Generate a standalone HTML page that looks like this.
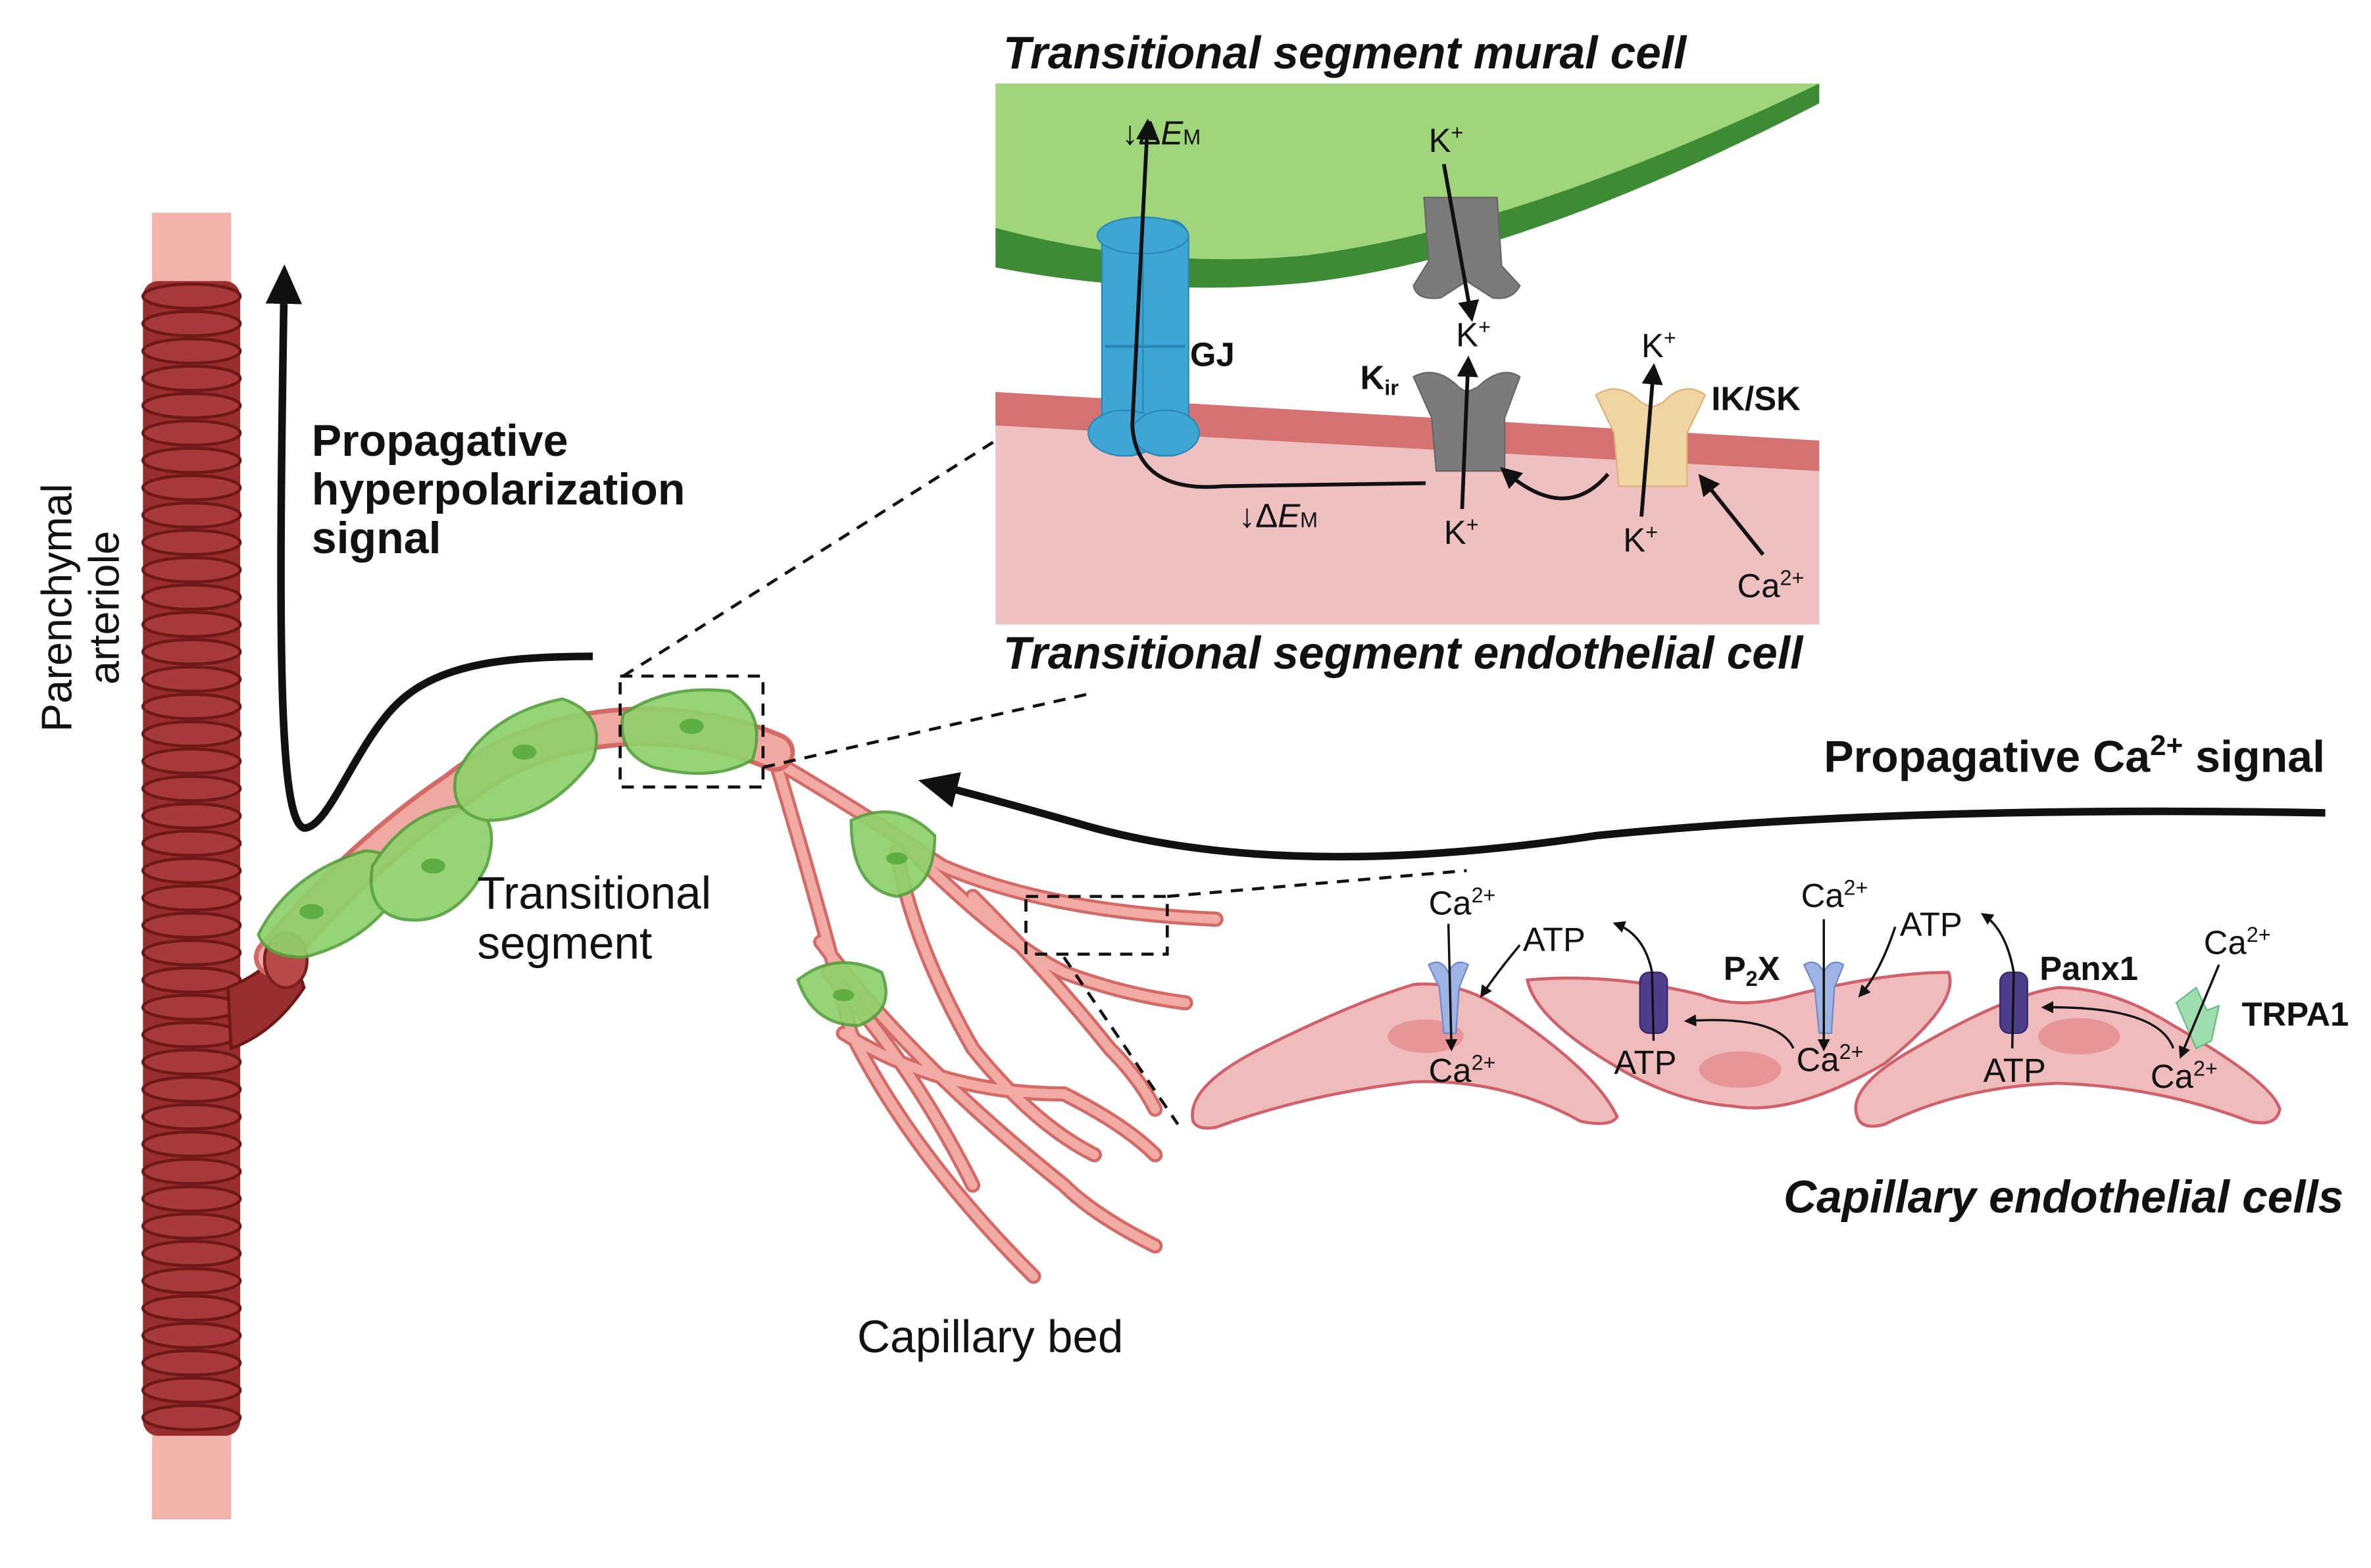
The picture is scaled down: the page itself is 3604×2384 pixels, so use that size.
<!DOCTYPE html>
<html><head><meta charset="utf-8"><style>
html,body{margin:0;padding:0;background:#fff;}
svg{display:block;}
text{font-family:"Liberation Sans",sans-serif;fill:#111;}
.b{font-weight:bold;}
.bi{font-weight:bold;font-style:italic;}
</style></head><body>
<svg width="3604" height="2384" viewBox="0 0 1560 1032" xmlns="http://www.w3.org/2000/svg">
<defs>
<marker id="ah" markerWidth="8" markerHeight="8" refX="6" refY="4" orient="auto" markerUnits="userSpaceOnUse"><path d="M0,0 L8,4 L0,8 z" fill="#111"/></marker>
<marker id="ahb" markerWidth="26" markerHeight="24" refX="20" refY="12" orient="auto" markerUnits="userSpaceOnUse"><path d="M0,0 L26,12 L0,24 z" fill="#111"/></marker>
<marker id="ahm" markerWidth="14" markerHeight="14" refX="10" refY="7" orient="auto" markerUnits="userSpaceOnUse"><path d="M0,0 L14,7 L0,14 z" fill="#111"/></marker>
</defs>

<!-- Arteriole -->
<rect x="100" y="140" width="52" height="60" fill="#f2b3ad"/>
<rect x="100" y="930" width="52" height="70" fill="#f2b3ad"/>
<rect x="94" y="185" width="64" height="760" rx="10" fill="#9a2e2e"/>
<g stroke="#6e1818" stroke-width="2" fill="#a8393a">
<ellipse cx="126" cy="195" rx="32" ry="8"/><ellipse cx="126" cy="213" rx="32" ry="8"/><ellipse cx="126" cy="231" rx="32" ry="8"/><ellipse cx="126" cy="249" rx="32" ry="8"/><ellipse cx="126" cy="267" rx="32" ry="8"/><ellipse cx="126" cy="285" rx="32" ry="8"/><ellipse cx="126" cy="303" rx="32" ry="8"/><ellipse cx="126" cy="321" rx="32" ry="8"/><ellipse cx="126" cy="339" rx="32" ry="8"/><ellipse cx="126" cy="357" rx="32" ry="8"/><ellipse cx="126" cy="375" rx="32" ry="8"/><ellipse cx="126" cy="393" rx="32" ry="8"/><ellipse cx="126" cy="411" rx="32" ry="8"/><ellipse cx="126" cy="429" rx="32" ry="8"/><ellipse cx="126" cy="447" rx="32" ry="8"/><ellipse cx="126" cy="465" rx="32" ry="8"/><ellipse cx="126" cy="483" rx="32" ry="8"/><ellipse cx="126" cy="501" rx="32" ry="8"/><ellipse cx="126" cy="519" rx="32" ry="8"/><ellipse cx="126" cy="537" rx="32" ry="8"/><ellipse cx="126" cy="555" rx="32" ry="8"/><ellipse cx="126" cy="573" rx="32" ry="8"/><ellipse cx="126" cy="591" rx="32" ry="8"/><ellipse cx="126" cy="609" rx="32" ry="8"/><ellipse cx="126" cy="627" rx="32" ry="8"/><ellipse cx="126" cy="645" rx="32" ry="8"/><ellipse cx="126" cy="663" rx="32" ry="8"/><ellipse cx="126" cy="681" rx="32" ry="8"/><ellipse cx="126" cy="699" rx="32" ry="8"/><ellipse cx="126" cy="717" rx="32" ry="8"/><ellipse cx="126" cy="735" rx="32" ry="8"/><ellipse cx="126" cy="753" rx="32" ry="8"/><ellipse cx="126" cy="771" rx="32" ry="8"/><ellipse cx="126" cy="789" rx="32" ry="8"/><ellipse cx="126" cy="807" rx="32" ry="8"/><ellipse cx="126" cy="825" rx="32" ry="8"/><ellipse cx="126" cy="843" rx="32" ry="8"/><ellipse cx="126" cy="861" rx="32" ry="8"/><ellipse cx="126" cy="879" rx="32" ry="8"/><ellipse cx="126" cy="897" rx="32" ry="8"/><ellipse cx="126" cy="915" rx="32" ry="8"/><ellipse cx="126" cy="933" rx="32" ry="8"/>
</g>
<path d="M150,650 Q175,640 190,620 L200,650 Q180,680 152,690 z" fill="#9a2e2e" stroke="#6e1818" stroke-width="2"/>

<text font-size="28" transform="translate(47,400) rotate(-90)" text-anchor="middle">Parenchymal</text>
<text font-size="28" transform="translate(78,400) rotate(-90)" text-anchor="middle">arteriole</text>

<!-- capillary branches -->
<g fill="none" stroke="#d46a66" stroke-width="10" stroke-linecap="round">
<path d="M500,495 Q560,530 620,570 Q690,600 800,605"/>
<path d="M600,560 Q660,620 700,640 Q740,655 780,660"/>
<path d="M640,590 Q690,640 730,690 Q750,710 760,730"/>
<path d="M510,500 Q540,600 560,680 Q600,760 680,840"/>
<path d="M540,620 Q600,700 700,780 Q720,800 760,820"/>
<path d="M555,680 Q620,720 700,720 Q740,740 760,760"/>
<path d="M590,560 Q600,620 640,690 Q680,740 720,760"/>
<path d="M545,640 Q600,700 640,780"/>
</g>
<g fill="none" stroke="#f2aaa4" stroke-width="6" stroke-linecap="round">
<path d="M500,495 Q560,530 620,570 Q690,600 800,605"/>
<path d="M600,560 Q660,620 700,640 Q740,655 780,660"/>
<path d="M640,590 Q690,640 730,690 Q750,710 760,730"/>
<path d="M510,500 Q540,600 560,680 Q600,760 680,840"/>
<path d="M540,620 Q600,700 700,780 Q720,800 760,820"/>
<path d="M555,680 Q620,720 700,720 Q740,740 760,760"/>
<path d="M590,560 Q600,620 640,690 Q680,740 720,760"/>
<path d="M545,640 Q600,700 640,780"/>
</g>
<!-- transitional segment vessel -->
<path d="M180,630 Q240,560 300,520 Q350,480 420,478 Q470,478 510,495" fill="none" stroke="#d46a66" stroke-width="26" stroke-linecap="round"/>
<path d="M180,630 Q240,560 300,520 Q350,480 420,478 Q470,478 510,495" fill="none" stroke="#f0a9a2" stroke-width="20" stroke-linecap="round"/>
<ellipse cx="188" cy="632" rx="14" ry="18" fill="#b94848" stroke="#7a2020" stroke-width="2"/>
<!-- green mural cells -->
<g fill="#8fd16a" stroke="#57a13e" stroke-width="2" opacity="0.92">
<path d="M170,615 Q190,575 240,560 Q265,560 260,590 Q240,620 200,630 Q175,630 170,615z"/>
<path d="M245,570 Q270,530 310,530 Q330,540 320,570 Q300,610 265,605 Q240,600 245,570z"/>
<path d="M300,510 Q320,470 370,460 Q400,470 390,500 Q360,540 320,540 Q295,535 300,510z"/>
<path d="M410,470 Q440,450 480,455 Q505,470 495,500 Q470,515 430,505 Q405,495 410,470z"/>
<path d="M560,540 Q590,525 615,550 Q615,585 590,590 Q560,585 560,540z"/>
<path d="M525,645 Q550,625 580,640 Q590,665 565,675 Q535,675 525,645z"/>
</g>
<g fill="#5fae43">
<ellipse cx="205" cy="600" rx="8" ry="5"/><ellipse cx="285" cy="570" rx="8" ry="5"/><ellipse cx="345" cy="495" rx="8" ry="5"/><ellipse cx="455" cy="478" rx="8" ry="5"/><ellipse cx="590" cy="565" rx="7" ry="4"/><ellipse cx="555" cy="655" rx="7" ry="4"/>
</g>

<text font-size="30" x="314" y="598">Transitional</text>
<text font-size="30" x="314" y="631">segment</text>
<text font-size="30" x="564" y="890">Capillary bed</text>

<!-- hyperpolarization arrow -->
<path d="M390,432 C320,432 280,440 255,470 C230,500 215,545 200,545 C183,540 183,420 187,180" fill="none" stroke="#111" stroke-width="5" marker-end="url(#ahb)"/>
<text class="b" font-size="29.5" x="205" y="300">Propagative</text>
<text class="b" font-size="29.5" x="205" y="332">hyperpolarization</text>
<text class="b" font-size="29.5" x="205" y="364">signal</text>

<!-- Ca signal arrow -->
<path d="M1530,535 Q1250,530 1050,550 Q850,580 720,545 Q650,525 610,515" fill="none" stroke="#111" stroke-width="5" marker-end="url(#ahb)"/>
<text class="b" font-size="29.5" x="1200" y="508">Propagative Ca<tspan font-size="19" dy="-11">2+</tspan><tspan dy="11"> signal</tspan></text>

<!-- dashed boxes & lines -->
<g fill="none" stroke="#111" stroke-width="2" stroke-dasharray="8,6">
<rect x="408" y="445" width="94" height="73"/>
<rect x="675" y="590" width="93" height="38"/>
<line x1="410" y1="445" x2="655" y2="290"/>
<line x1="502" y1="505" x2="715" y2="457"/>
<line x1="768" y1="590" x2="965" y2="573"/>
<line x1="700" y1="630" x2="775" y2="740"/>
</g>

<!-- Inset -->
<text class="bi" font-size="30" x="660" y="45">Transitional segment mural cell</text>
<rect x="655" y="55" width="542" height="356" fill="#fff"/>
<path d="M655,55 L1197,55 L1197,62 Q1000,160 860,180 Q760,190 655,160 z" fill="#9fd67b"/>
<path d="M655,150 Q760,178 860,168 Q1000,150 1197,55 L1197,68 Q1000,170 860,186 Q760,196 655,176 z" fill="#3d8c35"/>
<path d="M655,258 L1197,290 L1197,411 L655,411 z" fill="#efc0c0"/>
<path d="M655,258 L1197,290 L1197,310 L655,280 z" fill="#d47272"/>
<!-- GJ -->
<g fill="#3ea6d4" stroke="#2c88b5" stroke-width="1">
<rect x="725" y="145" width="30" height="155" rx="12"/>
<rect x="752" y="145" width="30" height="155" rx="12"/>
<ellipse cx="740" cy="285" rx="24" ry="15"/><ellipse cx="767" cy="285" rx="22" ry="15"/>
<ellipse cx="752" cy="155" rx="30" ry="12"/>
</g>
<line x1="727" y1="228" x2="780" y2="228" stroke="#2c88b5" stroke-width="2"/>
<!-- gray channels -->
<path d="M937,130 L985,130 L988,175 L1000,188 Q995,198 982,196 L965,185 L948,196 Q932,198 930,188 L940,172 z" fill="#7b7b7b" stroke="#666"/>
<path d="M930,248 Q945,240 960,255 L965,258 L972,255 Q988,240 1000,248 L990,275 L990,310 L945,310 L942,275 z" fill="#7b7b7b" stroke="#666"/>
<path d="M1050,260 Q1065,250 1080,265 L1087,268 L1094,265 Q1108,250 1122,260 L1110,285 L1110,320 L1065,320 L1062,285 z" fill="#f1d4a3" stroke="#d9b57a"/>
<!-- inset arrows -->
<g stroke="#111" stroke-width="2.5" fill="none">
<path d="M938,318 L805,320 Q748,325 745,280 L755,82" marker-end="url(#ahm)"/>
<line x1="950" y1="108" x2="968" y2="208" marker-end="url(#ahm)"/>
<line x1="962" y1="335" x2="966" y2="238" marker-end="url(#ahm)"/>
<line x1="1080" y1="340" x2="1088" y2="243" marker-end="url(#ahm)"/>
<path d="M1058,312 Q1030,345 990,310" marker-end="url(#ahm)"/>
<line x1="1160" y1="365" x2="1120" y2="315" marker-end="url(#ahm)"/>
</g>
<g font-size="22">
<text x="738" y="95">↓Δ<tspan font-style="italic">E</tspan><tspan font-size="14">M</tspan></text>
<text x="940" y="100">K<tspan font-size="14" dy="-8">+</tspan></text>
<text x="958" y="228">K<tspan font-size="14" dy="-8">+</tspan></text>
<text x="1080" y="235">K<tspan font-size="14" dy="-8">+</tspan></text>
<text x="815" y="347">↓Δ<tspan font-style="italic">E</tspan><tspan font-size="14">M</tspan></text>
<text x="950" y="358">K<tspan font-size="14" dy="-8">+</tspan></text>
<text x="1068" y="363">K<tspan font-size="14" dy="-8">+</tspan></text>
<text x="1143" y="393">Ca<tspan font-size="14" dy="-8">2+</tspan></text>
<text class="b" x="783" y="241">GJ</text>
<text class="b" x="895" y="256">K<tspan font-size="14" dy="4">ir</tspan></text>
<text class="b" x="1126" y="270">IK/SK</text>
</g>
<text class="bi" font-size="30" x="660" y="440">Transitional segment endothelial cell</text>

<!-- Capillary endothelial cells -->
<g fill="#efbcbc" stroke="#d0606a" stroke-width="2">
<path d="M1005,645 Q1060,640 1120,655 Q1145,665 1180,655 Q1240,640 1282,640 Q1290,660 1240,700 Q1180,735 1140,728 Q1100,725 1060,700 Q1010,670 1005,645z"/>
<path d="M785,738 Q780,715 830,690 Q890,660 930,648 Q960,645 990,665 Q1050,705 1064,735 Q1060,742 1040,738 Q990,710 930,712 Q860,720 800,742 Q788,744 785,738z"/>
<path d="M1222,735 Q1215,715 1260,690 Q1320,655 1354,650 Q1390,650 1430,675 Q1495,712 1500,730 Q1498,742 1480,738 Q1420,715 1354,713 Q1290,715 1240,740 Q1225,744 1222,735z"/>
</g>
<g fill="#e8959a">
<ellipse cx="938" cy="682" rx="25" ry="11"/><ellipse cx="1145" cy="704" rx="27" ry="12"/><ellipse cx="1368" cy="682" rx="27" ry="12"/>
</g>
<g fill="#9fb4e2" stroke="#6f8acb">
<path d="M940,635 Q948,630 953,640 Q958,630 966,635 L960,650 L958,680 L950,680 L947,650z"/>
<path d="M1187,635 Q1195,630 1200,640 Q1205,630 1213,635 L1207,650 L1205,680 L1197,680 L1194,650z"/>
</g>
<g fill="#4d3d8c" stroke="#352870">
<rect x="1079" y="640" width="18" height="40" rx="6"/>
<rect x="1316" y="640" width="18" height="40" rx="6"/>
</g>
<path d="M1432,660 L1445,650 L1452,665 L1460,662 L1455,685 L1445,690 z" fill="#9fdcb0" stroke="#6bbc86"/>
<g stroke="#111" stroke-width="1.5" fill="none">
<line x1="953" y1="608" x2="955" y2="690" marker-end="url(#ah)"/>
<path d="M1000,622 Q985,640 975,655" marker-end="url(#ah)"/>
<path d="M1088,685 L1087,640 Q1082,615 1063,608" marker-end="url(#ah)"/>
<line x1="1200" y1="605" x2="1200" y2="690" marker-end="url(#ah)"/>
<path d="M1247,610 Q1237,640 1224,655" marker-end="url(#ah)"/>
<path d="M1324,690 L1325,640 Q1320,612 1305,602" marker-end="url(#ah)"/>
<path d="M1180,690 Q1170,668 1110,672" marker-end="url(#ah)"/>
<path d="M1430,690 Q1420,662 1345,663" marker-end="url(#ah)"/>
<line x1="1460" y1="635" x2="1435" y2="695" marker-end="url(#ah)"/>
</g>
<g font-size="22">
<text x="940" y="602">Ca<tspan font-size="14" dy="-8">2+</tspan></text>
<text x="1002" y="626">ATP</text>
<text x="940" y="712">Ca<tspan font-size="14" dy="-8">2+</tspan></text>
<text x="1062" y="707">ATP</text>
<text x="1185" y="597">Ca<tspan font-size="14" dy="-8">2+</tspan></text>
<text x="1250" y="616">ATP</text>
<text x="1182" y="705">Ca<tspan font-size="14" dy="-8">2+</tspan></text>
<text x="1305" y="712">ATP</text>
<text x="1450" y="628">Ca<tspan font-size="14" dy="-8">2+</tspan></text>
<text x="1415" y="716">Ca<tspan font-size="14" dy="-8">2+</tspan></text>
<text class="b" x="1134" y="645">P<tspan font-size="14" dy="4">2</tspan><tspan dy="-4">X</tspan></text>
<text class="b" x="1342" y="645">Panx1</text>
<text class="b" x="1475" y="675">TRPA1</text>
</g>
<text class="bi" font-size="30" x="1542" y="798" text-anchor="end">Capillary endothelial cells</text>
</svg>
</body></html>
